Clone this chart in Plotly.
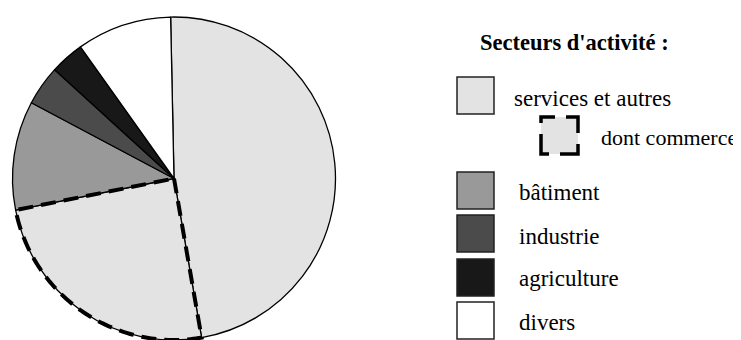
import numpy as np
import plotly.graph_objects as go

# the page body adds an 8px margin, so the figure is a bit smaller than the window
OFF = 8
W, H = 741 - OFF, 340 - OFF

# Sectors, clockwise from 12 o'clock (percent of total)
sectors = ["services et autres", "dont commerce", "bâtiment", "industrie", "agriculture", "divers"]
shares = [47.6, 24.6, 10.9, 4.0, 3.4, 9.5]
colors = ["#e3e3e3", "#e3e3e3", "#999999", "#4b4b4b", "#181818", "#ffffff"]

legend_title = "Secteurs d'activité :"
legend_labels = ["services et autres", "dont commerce", "bâtiment", "industrie", "agriculture", "divers"]
legend_colors = ["#e3e3e3", "#e3e3e3", "#999999", "#4b4b4b", "#181818", "#ffffff"]

start_angle = -1.2
dom_x = [(11 - OFF) / W, (337 - OFF) / W]
dom_y = [0.0, 1 - (17 - OFF) / H]

fig = go.Figure()

fig.add_trace(go.Pie(
    labels=sectors, values=shares, sort=False, direction="clockwise",
    rotation=start_angle, textinfo="none", hoverinfo="label+percent",
    marker=dict(colors=colors, line=dict(color="black", width=1.3)),
    domain=dict(x=dom_x, y=dom_y), showlegend=False,
))

# dashed outline of the "dont commerce" part, from the same pie geometry
cx = W * (dom_x[0] + dom_x[1]) / 2
cy = H * (1 - (dom_y[0] + dom_y[1]) / 2)
r = min(W * (dom_x[1] - dom_x[0]), H * (dom_y[1] - dom_y[0])) / 2
cum = np.cumsum([0] + shares) / sum(shares) * 360 + start_angle
a0, a1 = np.radians(cum[1]), np.radians(cum[2])
t = np.linspace(a0, a1, 90)
path = f"M {cx:.2f},{cy:.2f} " + " ".join(
    f"L {cx + r * np.sin(a):.2f},{cy - r * np.cos(a):.2f}" for a in t) + " Z"
fig.add_shape(type="path", path=path, xref="x", yref="y", layer="above",
              line=dict(color="black", width=4, dash="15px,8px"))

# legend drawn by hand (positions in window pixels)
font = dict(family="Liberation Serif, Times New Roman, serif", color="black")
fig.add_annotation(x=478 - OFF, y=42 - OFF, text="<b>" + legend_title + "</b>", showarrow=False,
                   xanchor="left", yanchor="middle", font=dict(size=22.5, **font))

boxes = [(457, 77), (541, 117), (457, 172), (457, 215), (457, 259), (457, 302)]
text_x = [512, 599, 517, 517, 517, 517]
text_y = [98, 137, 192, 236, 278, 322]
for i, lab in enumerate(legend_labels):
    bx, by = boxes[i][0] - OFF, boxes[i][1] - OFF
    if lab == "dont commerce":
        line = dict(color="black", width=3.5,
                    dash="14px,11px,28px,11px,28px,11px,28px,11px,14px")
    else:
        line = dict(color="#222222", width=1.5)
    fig.add_shape(type="rect", x0=bx, y0=by, x1=bx + 37, y1=by + 37,
                  xref="x", yref="y", fillcolor=legend_colors[i], line=line)
    fig.add_annotation(x=text_x[i] - OFF, y=text_y[i] - OFF, text=lab, showarrow=False,
                       xanchor="left", yanchor="middle",
                       font=dict(size=22 if lab == "dont commerce" else 23, **font))

fig.update_layout(
    width=W, height=H, margin=dict(l=0, r=0, t=0, b=0),
    paper_bgcolor="white", plot_bgcolor="rgba(0,0,0,0)",
    xaxis=dict(range=[0, W], visible=False, fixedrange=True),
    yaxis=dict(range=[H, 0], visible=False, fixedrange=True),
)

fig.write_html("out.html")
